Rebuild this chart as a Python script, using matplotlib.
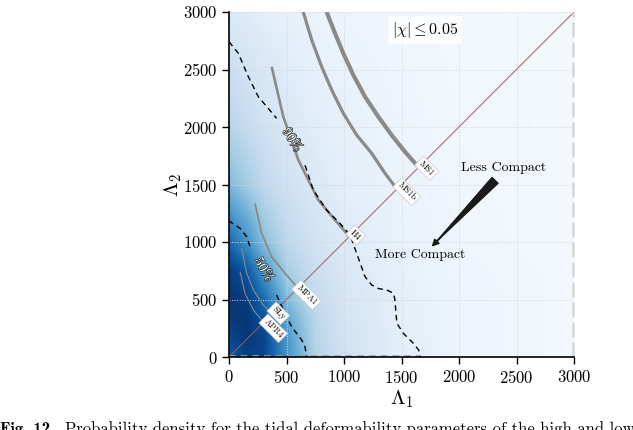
import numpy as np
import matplotlib
matplotlib.use("Agg")
import matplotlib.pyplot as plt
import matplotlib.patheffects as pe

plt.rcParams['font.family'] = 'serif'
plt.rcParams['font.serif'] = ['cmr10', 'DejaVu Serif']
plt.rcParams['mathtext.fontset'] = 'cm'
plt.rcParams['axes.formatter.use_mathtext'] = True
plt.rcParams['axes.unicode_minus'] = False

# ---------------- data ----------------
grid_nodes = [0, 150, 300, 500, 750, 1000, 1500, 2000, 3000]
# density (0..1) rows = Lambda2 nodes, cols = Lambda1 nodes
density = [
    [0.85, 0.93, 0.92, 0.62, 0.32, 0.20, 0.10, 0.05, 0.025],
    [0.90, 0.97, 0.92, 0.60, 0.30, 0.19, 0.10, 0.05, 0.025],
    [0.95, 0.98, 0.88, 0.55, 0.29, 0.18, 0.09, 0.05, 0.025],
    [0.98, 0.95, 0.78, 0.45, 0.26, 0.17, 0.09, 0.05, 0.025],
    [0.95, 0.85, 0.60, 0.35, 0.22, 0.15, 0.08, 0.045, 0.025],
    [0.78, 0.62, 0.43, 0.28, 0.19, 0.13, 0.07, 0.04, 0.02],
    [0.45, 0.36, 0.27, 0.20, 0.14, 0.10, 0.06, 0.035, 0.02],
    [0.30, 0.25, 0.20, 0.15, 0.11, 0.08, 0.05, 0.03, 0.02],
    [0.14, 0.12, 0.10, 0.08, 0.06, 0.05, 0.035, 0.025, 0.02],
]

c90_upper_l1 = [0, 81, 168, 255, 414]
c90_upper_l2 = [2742, 2641, 2437, 2263, 2076]
c90_lower_l1 = [661, 733, 849, 965, 1052, 1110, 1183, 1241, 1300, 1371, 1430, 1443, 1452, 1460, 1516, 1603, 1650, 1661]
c90_lower_l2 = [1667, 1452, 1278, 1162, 1061, 901, 698, 626, 595, 583, 555, 496, 380, 293, 206, 119, 60, 0]
c50_upper_l1 = [0, 9, 96, 154, 183]
c50_upper_l2 = [1163, 1177, 1119, 1046, 959]
c50_lower_l1 = [414, 472, 545, 632, 661, 675]
c50_lower_l2 = [539, 409, 263, 148, 90, 0]
contour_edge_l1 = [0, 1661]

eos_names = ['MS1', 'MS1b', 'H4', 'MPA1', 'SLy', 'APR4']
eos_l1 = [
    [849, 922, 994, 1081, 1183, 1298, 1414, 1530, 1640],
    [646, 719, 806, 893, 994, 1110, 1241, 1357, 1445],
    [371, 472, 603, 777, 922, 1023, 1040],
    [226, 284, 371, 487, 588],
    [110, 154, 212, 298, 371, 390],
    [96, 139, 212, 284, 300],
]
eos_l2 = [
    [3000, 2815, 2641, 2452, 2263, 2090, 1930, 1785, 1660],
    [3000, 2757, 2524, 2322, 2119, 1930, 1771, 1597, 1480],
    [2524, 2090, 1713, 1365, 1191, 1075, 1045],
    [1336, 1075, 872, 728, 611],
    [945, 728, 583, 452, 380, 390],
    [742, 554, 409, 322, 300],
]
eos_label_l1 = [1719, 1545, 1101, 675, 429, 385]
eos_label_l2 = [1641, 1438, 1061, 539, 380, 250]
eos_lw = [3.0, 2.3, 1.9, 1.3, 0.8, 0.8]

ticks = [0, 500, 1000, 1500, 2000, 2500, 3000]

# ---------------- figure ----------------
fig = plt.figure(figsize=(6.33, 4.30), dpi=100)
ax = fig.add_axes([229 / 633, (430 - 357) / 430, 345 / 633, 345 / 430])

# resample the read-off density onto a fine raster (separable linear) for display
fine = np.linspace(0, 3000, 400)
dens = np.array(density)
tmp = np.array([np.interp(fine, grid_nodes, row) for row in dens])          # rows: L2 nodes
img = np.array([np.interp(fine, grid_nodes, tmp[:, k]) for k in range(len(fine))]).T
ax.imshow(img, cmap='Blues', vmin=0, vmax=1, origin='lower',
          extent=[0, 3000, 0, 3000], interpolation='bicubic', aspect='auto', zorder=0)

ax.grid(True, color='#d5d5d5', ls=':', lw=0.7, zorder=1)

# diagonal
ax.plot([0, 3000], [0, 3000], color='#9a5f5f', lw=0.7, zorder=3)

# EOS curves
for i, name in enumerate(eos_names):
    ax.plot(eos_l1[i], eos_l2[i], color='#8a8a8a', lw=eos_lw[i],
            solid_capstyle='butt', solid_joinstyle='round', zorder=2)
    ax.text(eos_label_l1[i], eos_label_l2[i], name, fontsize=6.3, rotation=-45,
            ha='center', va='center', zorder=6,
            bbox=dict(boxstyle='square,pad=0.25', fc='white', ec='#cccccc', lw=0.5))

# credible contours
dash = (0, (4, 3))
ax.plot(c90_upper_l1, c90_upper_l2, color='black', lw=1.0, ls=dash, zorder=4)
ax.plot(c90_lower_l1, c90_lower_l2, color='black', lw=1.0, ls=dash, zorder=4)
ax.plot(c50_upper_l1, c50_upper_l2, color='black', lw=1.0, ls=dash, zorder=4)
ax.plot(c50_lower_l1, c50_lower_l2, color='black', lw=1.0, ls=dash, zorder=4)
ax.plot(contour_edge_l1, [12, 12], color='#a0a0a0', lw=1.2, ls=dash, zorder=4)
ax.plot([2990, 2990], [0, 3000], color='#d6d6d6', lw=1.8, ls=(0, (6, 2)),
        zorder=4, clip_on=False)

stroke = [pe.withStroke(linewidth=1.0, foreground='#333333')]
ax.text(545, 1887, '90%', fontsize=10, rotation=-58, color='white',
        ha='center', va='center', path_effects=stroke, zorder=5)
ax.text(298, 757, '50%', fontsize=10, rotation=-60, color='white',
        ha='center', va='center', path_effects=stroke, zorder=5)

ax.text(1704, 2843, r'$|\chi| \leq 0.05$', fontsize=11.5, ha='center', va='center',
        zorder=6, bbox=dict(boxstyle='square,pad=0.25', fc='white', ec='none', alpha=0.85))

ax.text(2386, 1641, 'Less Compact', fontsize=10, ha='center', va='center', zorder=6)
ax.text(1661, 887, 'More Compact', fontsize=10, ha='center', va='center', zorder=6)
ax.annotate('', xy=(1800, 1000), xytext=(2313, 1536),
            arrowprops=dict(arrowstyle='wedge,tail_width=0.6', color='#1a1a1a',
                            shrinkA=0, shrinkB=0), zorder=6)
ax.annotate('', xy=(1762, 959), xytext=(1840, 1040),
            arrowprops=dict(arrowstyle='-|>', color='#1a1a1a', lw=1.2,
                            mutation_scale=10, shrinkA=0, shrinkB=0), zorder=6)

ax.set_xlim(0, 3000)
ax.set_ylim(0, 3000)
ax.set_xticks(ticks)
ax.set_yticks(ticks)
ax.tick_params(direction='out', length=5, width=1.0, labelsize=12, color='black')
for s in ['top', 'right']:
    ax.spines[s].set_visible(False)
for s in ['left', 'bottom']:
    ax.spines[s].set_linewidth(1.2)
    ax.spines[s].set_zorder(7)
ax.set_xlabel(r'$\Lambda_1$', fontsize=15, labelpad=2)
ax.set_ylabel(r'$\Lambda_2$', fontsize=15, labelpad=-1)

fig.text(0.0, -0.009, 'Fig. 12', fontsize=12, family='cmb10', va='baseline', ha='left')
fig.text(0.103, -0.009, 'Probability density for the tidal deformability parameters of the high and low',
         fontsize=12, va='baseline', ha='left')

fig.savefig('out.png', dpi=100)
